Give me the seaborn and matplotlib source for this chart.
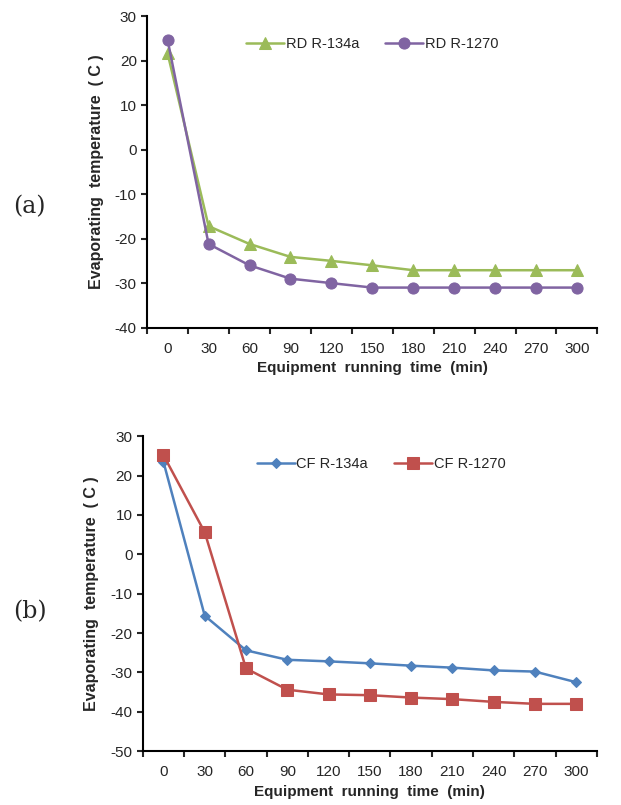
import numpy as np
import pandas as pd
import seaborn as sns
import matplotlib.pyplot as plt
from matplotlib.ticker import FixedLocator, NullFormatter

# categories on the x axis (minutes)
times = ["0", "30", "60", "90", "120", "150", "180", "210", "240", "270", "300"]

# (a) RD evaporating temperatures
rd_134a = [21.6, -17.2, -21.2, -24.1, -25.0, -26.0, -27.1, -27.1, -27.1, -27.1, -27.1]
rd_1270 = [24.6, -21.2, -26.0, -29.0, -30.0, -31.0, -31.0, -31.0, -31.0, -31.0, -31.0]

# (b) CF evaporating temperatures
cf_134a = [23.5, -15.6, -24.4, -26.8, -27.2, -27.7, -28.3, -28.8, -29.5, -29.8, -32.5]
cf_1270 = [25.2, 5.6, -29.0, -34.4, -35.6, -35.8, -36.4, -36.8, -37.5, -38.0, -38.0]

sns.set_style("ticks")
plt.rcParams['font.family'] = ['Liberation Sans', 'DejaVu Sans']
plt.rcParams['axes.unicode_minus'] = False

fig = plt.figure(figsize=(6.21, 8.05), dpi=100)
ax_a = fig.add_axes([0.237, 0.593, 0.725, 0.387])
ax_b = fig.add_axes([0.230, 0.067, 0.731, 0.391])

panels = [
    (ax_a, [("RD R-134a", rd_134a, "#9BBB59", "^", 8),
            ("RD R-1270", rd_1270, "#8064A2", "o", 8)],
     (-40, 30), "(a)", 0.743, 0.50),
    (ax_b, [("CF R-134a", cf_134a, "#4F81BD", "D", 5),
            ("CF R-1270", cf_1270, "#C0504D", "s", 8)],
     (-50, 30), "(b)", 0.240, 0.525),
]

for ax, series, ylim, tag, tag_y, leg_x in panels:
    for name, vals, col, mk, ms in series:
        df = pd.DataFrame({"time": times, "temp": vals})
        sns.lineplot(data=df, x="time", y="temp", ax=ax, color=col, marker=mk,
                     markersize=ms, markeredgecolor=col, linewidth=1.8,
                     label=name, sort=False)
    ax.set_ylim(*ylim)
    ax.set_yticks(np.arange(ylim[0], ylim[1] + 1, 10))
    ax.set_xlim(-0.5, len(times) - 0.5)
    # Excel style: tick marks between categories, labels at the categories
    ax.xaxis.set_minor_locator(FixedLocator(np.arange(-0.5, len(times), 1.0)))
    ax.xaxis.set_minor_formatter(NullFormatter())
    ax.tick_params(axis="x", which="major", length=0, labelsize=11, pad=10)
    ax.tick_params(axis="x", which="minor", length=4, width=1.5, direction="out")
    ax.tick_params(axis="y", length=4, width=1.5, labelsize=11, direction="out")
    for s in ["left", "bottom"]:
        ax.spines[s].set_linewidth(1.5)
        ax.spines[s].set_color("black")
    sns.despine(ax=ax)
    ax.set_xlabel("Equipment  running  time  (min)", fontsize=11,
                  fontweight="bold", labelpad=4)
    ax.set_ylabel("Evaporating  temperature  ( C )", fontsize=11.5,
                  fontweight="bold", labelpad=8)
    ax.legend(loc="upper center", bbox_to_anchor=(leg_x, 0.975), ncol=2, frameon=False,
              fontsize=10.5, handlelength=2.6, handletextpad=0.1, columnspacing=1.8)
    fig.text(0.021, tag_y, tag, fontsize=17, family=["DejaVu Serif"],
             va="center", ha="left")

fig.savefig("out.png", dpi=100)
